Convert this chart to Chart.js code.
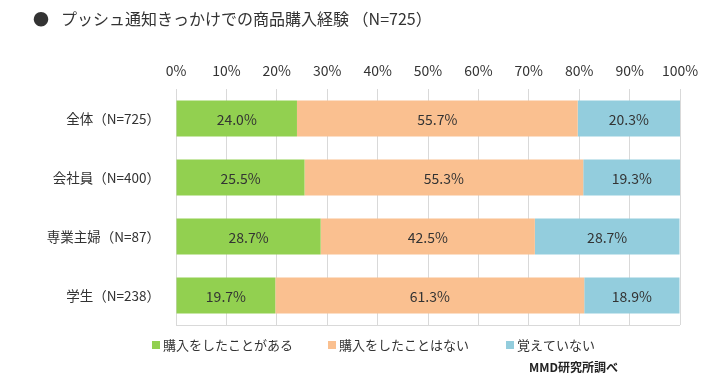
<!DOCTYPE html>
<html>
<head>
<meta charset="utf-8">
<script src="https://cdn.jsdelivr.net/npm/chart.js@4"></script>
<style>
  html, body { margin: 0; padding: 0; background: #fff; }
  #wrap { width: 714px; height: 387px; position: relative; }
</style>
</head>
<body>
<div id="wrap"><canvas id="chart" width="714" height="387"></canvas></div>
<script>
// data
const categories = ['全体（N=725）', '会社員（N=400）', '専業主婦（N=87）', '学生（N=238）'];
const bought = [24.0, 25.5, 28.7, 19.7];
const notBought = [55.7, 55.3, 42.5, 61.3];
const dontRemember = [20.3, 19.3, 28.7, 18.9];
const seriesNames = ['購入をしたことがある', '購入をしたことはない', '覚えていない'];
const seriesColors = ['#92D050', '#FAC090', '#93CDDD'];

const TITLE = 'プッシュ通知きっかけでの商品購入経験 （N=725）';
const SOURCE = 'MMD研究所調べ';
const FONT = '"Noto Sans CJK JP", "Noto Sans", sans-serif';
const TEXT = '#333333';
const GRID = '#d9d9d9';

// title, legend, source text and the value labels
const decorations = {
  id: 'decorations',
  beforeDatasetsDraw(chart) {
    const { ctx, chartArea } = chart;
    ctx.save();
    ctx.strokeStyle = GRID;
    ctx.lineWidth = 1;
    ctx.beginPath();
    ctx.moveTo(chartArea.left, Math.round(chartArea.bottom) + 0.5);
    ctx.lineTo(chartArea.right, Math.round(chartArea.bottom) + 0.5);
    ctx.stroke();
    ctx.restore();
  },
  afterDatasetsDraw(chart) {
    const { ctx } = chart;
    ctx.save();
    ctx.font = '14px ' + FONT;
    ctx.fillStyle = TEXT;
    ctx.textAlign = 'center';
    ctx.textBaseline = 'middle';
    chart.data.datasets.forEach((ds, i) => {
      chart.getDatasetMeta(i).data.forEach((bar, j) => {
        const p = bar.getCenterPoint();
        ctx.fillText(ds.data[j].toFixed(1) + '%', p.x, p.y + 1);
      });
    });
    ctx.restore();
  },
  afterDraw(chart) {
    const { ctx } = chart;
    ctx.save();
    ctx.fillStyle = TEXT;
    ctx.textBaseline = 'middle';
    // title
    ctx.font = '16px ' + FONT;
    ctx.fillText('●', 33, 19);
    ctx.fillText(TITLE, 61, 19);
    // legend
    const legendX = [152, 328, 506];
    ctx.font = '13px ' + FONT;
    chart.data.datasets.forEach((ds, i) => {
      ctx.fillStyle = ds.backgroundColor;
      ctx.fillRect(legendX[i], 341, 8, 8);
      ctx.fillStyle = TEXT;
      ctx.fillText(ds.label, legendX[i] + 11, 345);
    });
    // source
    ctx.font = 'bold 12px ' + FONT;
    ctx.fillStyle = '#222';
    ctx.fillText(SOURCE, 529, 367);
    ctx.restore();
  }
};

new Chart(document.getElementById('chart'), {
  type: 'bar',
  data: {
    labels: categories,
    datasets: [
      { label: seriesNames[0], data: bought, backgroundColor: seriesColors[0] },
      { label: seriesNames[1], data: notBought, backgroundColor: seriesColors[1] },
      { label: seriesNames[2], data: dontRemember, backgroundColor: seriesColors[2] },
    ]
  },
  options: {
    indexAxis: 'y',
    responsive: false,
    animation: false,
    maintainAspectRatio: false,
    layout: { padding: { top: 52, right: 34, bottom: 62, left: 0 } },
    datasets: { bar: { barPercentage: 0.61, categoryPercentage: 1, borderWidth: 0 } },
    plugins: {
      legend: { display: false },
      title: { display: false },
      tooltip: { enabled: false }
    },
    scales: {
      x: {
        stacked: true,
        position: 'top',
        min: 0,
        max: 100,
        ticks: {
          stepSize: 10,
          padding: 10,
          color: TEXT,
          font: { family: FONT, size: 14 },
          callback: v => v + '%'
        },
        grid: { color: GRID, drawTicks: false },
        border: { display: false },
        afterFit: s => { s.height = 37; }
      },
      y: {
        stacked: true,
        ticks: { color: TEXT, padding: 8, font: { family: FONT, size: 13.5 } },
        grid: { display: false },
        border: { display: true, color: GRID },
        afterFit: s => { s.width = 176; }
      }
    }
  },
  plugins: [decorations]
});
</script>
</body>
</html>
